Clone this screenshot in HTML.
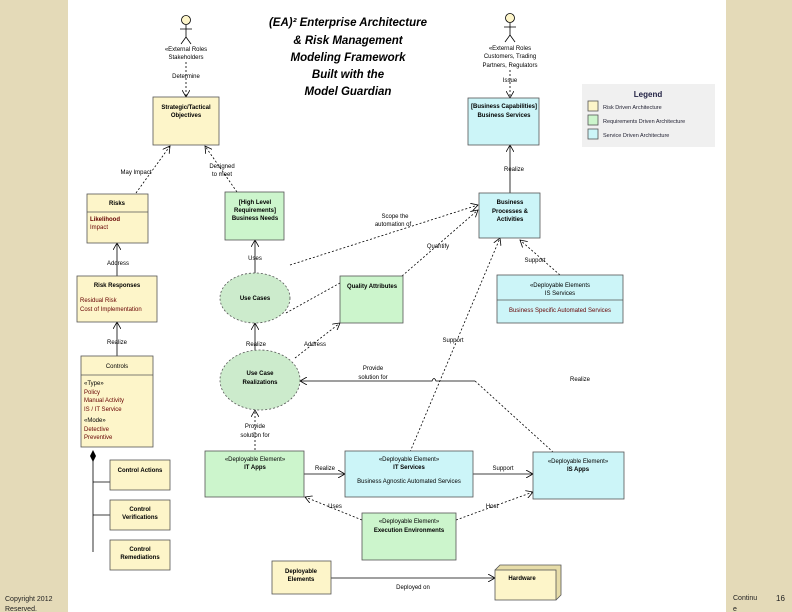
<!DOCTYPE html>
<html><head><style>
body{margin:0;width:792px;height:612px;overflow:hidden;background:#e6dcba;font-family:"Liberation Sans",sans-serif}
svg{position:absolute;left:0;top:0}
</style></head><body>
<svg width="792" height="612" viewBox="0 0 792 612" font-family="Liberation Sans, sans-serif" font-size="6.5">
<defs>
<marker id="a" markerWidth="8" markerHeight="8" refX="7" refY="4" orient="auto" markerUnits="userSpaceOnUse"><path d="M0,0 L7,4 L0,8" fill="none" stroke="#000" stroke-width="0.8"/></marker>
</defs>
<rect x="0" y="0" width="792" height="612" fill="#e4dab8"/>
<rect x="68" y="0" width="658" height="612" fill="#fff"/>
<g fill="#000" font-weight="bold" font-style="italic" font-size="11.5" text-anchor="middle">
<text x="348" y="26">(EA)² Enterprise Architecture</text>
<text x="348" y="44">&amp; Risk Management</text>
<text x="348" y="61">Modeling Framework</text>
<text x="348" y="78">Built with the</text>
<text x="348" y="95">Model Guardian</text>
</g>
<g stroke="#000" stroke-width="0.8" fill="none">
<circle cx="186" cy="20" r="4.5" fill="#fdf5c9"/><path d="M186,25 V37 M180,29 H192 M186,37 L181,44 M186,37 L191,44"/>
<circle cx="510" cy="18" r="4.5" fill="#fdf5c9"/><path d="M510,23 V35 M504,27 H516 M510,35 L505,42 M510,35 L515,42"/>
</g>
<g font-size="6" text-anchor="middle">
<text x="186" y="51">«External Roles</text><text x="186" y="59">Stakeholders</text><text x="186" y="78">Determine</text>
<text x="510" y="50">«External Roles</text><text x="510" y="58">Customers, Trading</text><text x="510" y="67">Partners, Regulators</text><text x="510" y="82">Issue</text>
</g>
<g stroke="#000" stroke-width="0.8" fill="none" stroke-dasharray="2,2">
<path d="M186,62 V97" marker-end="url(#a)"/>
<path d="M510,70 V98" marker-end="url(#a)"/>
<path d="M136,193 L170,146" marker-end="url(#a)"/>
<path d="M237,192 L205,146" marker-end="url(#a)"/>
<path d="M290,265 L478,205" marker-end="url(#a)"/>
<path d="M286,313 L340,283"/>
<path d="M402,276 L478,210" marker-end="url(#a)"/>
<path d="M560,275 L520,240" marker-end="url(#a)"/>
<path d="M295,358 L340,323" marker-end="url(#a)"/>
<path d="M410,452 L500,238" marker-end="url(#a)"/>
<path d="M255,450 V410" marker-end="url(#a)"/>
<path d="M362,520 L305,497" marker-end="url(#a)"/>
<path d="M456,520 L533,492" marker-end="url(#a)"/>
<path d="M475,381 L553,452"/>
</g>
<g stroke="#000" stroke-width="0.8" fill="none">
<path d="M510,193 V145" marker-end="url(#a)"/>
<path d="M117,276 V243" marker-end="url(#a)"/>
<path d="M255,273 V240" marker-end="url(#a)"/>
<path d="M117,356 V322" marker-end="url(#a)"/>
<path d="M255,350 V323" marker-end="url(#a)"/>
<path d="M475,381 H436 Q434,376 432,381 H300" marker-end="url(#a)"/>
<path d="M304,474 H345" marker-end="url(#a)"/>
<path d="M473,474 H533" marker-end="url(#a)"/>
<path d="M331,578 H495" marker-end="url(#a)"/>
<path d="M93,452 V552 M93,482 H110 M93,515 H110"/>
</g>
<path d="M93,450 l-3,6 l3,6 l3,-6z" fill="#000"/>
<g font-size="6" text-anchor="middle">
<text x="136" y="174">May Impact</text><text x="222" y="168">Designed</text><text x="222" y="176">to meet</text>
<text x="395" y="218">Scope the</text><text x="393" y="226">automation of</text>
<text x="438" y="248">Quantify</text><text x="514" y="171">Realize</text><text x="535" y="262">Support</text>
<text x="118" y="265">Address</text><text x="255" y="260">Uses</text><text x="117" y="344">Realize</text>
<text x="256" y="346">Realize</text><text x="315" y="346">Address</text><text x="453" y="342">Support</text>
<text x="373" y="370">Provide</text><text x="373" y="379">solution for</text><text x="580" y="381">Realize</text>
<text x="255" y="428">Provide</text><text x="255" y="437">solution for</text>
<text x="325" y="470">Realize</text><text x="503" y="470">Support</text>
<text x="335" y="508">Uses</text><text x="492" y="508">Host</text><text x="413" y="589">Deployed on</text>
</g>
<g stroke="#555" stroke-width="0.8">
<rect x="153" y="97" width="66" height="48" fill="#fdf5c9"/>
<rect x="87" y="194" width="61" height="49" fill="#fdf5c9"/><line x1="87" y1="212" x2="148" y2="212"/>
<rect x="225" y="192" width="59" height="48" fill="#ccf5cc"/>
<rect x="468" y="98" width="71" height="47" fill="#ccf5f8"/>
<rect x="479" y="193" width="61" height="45" fill="#ccf5f8"/>
<rect x="77" y="276" width="80" height="46" fill="#fdf5c9"/>
<ellipse cx="255" cy="298" rx="35" ry="25" fill="#ccebcc" stroke-dasharray="2,2"/>
<rect x="340" y="276" width="63" height="47" fill="#ccf5cc"/>
<rect x="497" y="275" width="126" height="48" fill="#ccf5f8"/><line x1="497" y1="300" x2="623" y2="300"/>
<rect x="81" y="356" width="72" height="91" fill="#fdf5c9"/><line x1="81" y1="375" x2="153" y2="375"/>
<ellipse cx="260" cy="380" rx="40" ry="30" fill="#ccebcc" stroke-dasharray="2,2"/>
<rect x="205" y="451" width="99" height="46" fill="#ccf5cc"/>
<rect x="345" y="451" width="128" height="46" fill="#ccf5f8"/>
<rect x="533" y="452" width="91" height="47" fill="#ccf5f8"/>
<rect x="362" y="513" width="94" height="47" fill="#ccf5cc"/>
<rect x="110" y="460" width="60" height="30" fill="#fdf5c9"/>
<rect x="110" y="500" width="60" height="30" fill="#fdf5c9"/>
<rect x="110" y="540" width="60" height="30" fill="#fdf5c9"/>
<rect x="272" y="561" width="59" height="33" fill="#fdf5c9"/>
<path d="M495,570 l5,-5 h61 v30 l-5,5" fill="#e6dca8"/>
<rect x="495" y="570" width="61" height="30" fill="#fdf5c9"/>
<rect x="582" y="84" width="133" height="63" fill="#f0f0f0" stroke="none"/>
<rect x="588" y="101" width="10" height="10" fill="#fdf5c9"/>
<rect x="588" y="115" width="10" height="10" fill="#ccf5cc"/>
<rect x="588" y="129" width="10" height="10" fill="#ccf5f8"/>
</g>
<g font-size="6" text-anchor="middle">
<text x="186" y="109" font-weight="bold">Strategic/Tactical</text><text x="186" y="117" font-weight="bold">Objectives</text>
<text x="117" y="205" font-weight="bold">Risks</text>
<text x="255" y="204" font-weight="bold">[High Level</text><text x="255" y="212" font-weight="bold">Requirements]</text><text x="255" y="220" font-weight="bold">Business Needs</text>
<text x="504" y="108" font-weight="bold">[Business Capabilities]</text><text x="504" y="117" font-weight="bold">Business Services</text>
<text x="510" y="204" font-weight="bold">Business</text><text x="510" y="213" font-weight="bold">Processes &amp;</text><text x="510" y="221" font-weight="bold">Activities</text>
<text x="117" y="287" font-weight="bold">Risk Responses</text>
<text x="255" y="300" font-weight="bold">Use Cases</text>
<text x="372" y="288" font-weight="bold">Quality Attributes</text>
<text x="560" y="287">«Deployable Elements</text><text x="560" y="295">IS Services</text>
<text x="560" y="312" fill="#600">Business Specific Automated Services</text>
<text x="117" y="368">Controls</text>
<text x="260" y="375" font-weight="bold">Use Case</text><text x="260" y="384" font-weight="bold">Realizations</text>
<text x="255" y="461">«Deployable Element»</text><text x="255" y="469" font-weight="bold">IT Apps</text>
<text x="409" y="461">«Deployable Element»</text><text x="409" y="469" font-weight="bold">IT Services</text><text x="409" y="483">Business Agnostic Automated Services</text>
<text x="578" y="463">«Deployable Element»</text><text x="578" y="471" font-weight="bold">IS Apps</text>
<text x="409" y="523">«Deployable Element»</text><text x="409" y="532" font-weight="bold">Execution Environments</text>
<text x="140" y="472" font-weight="bold">Control Actions</text>
<text x="140" y="511" font-weight="bold">Control</text><text x="140" y="519" font-weight="bold">Verifications</text>
<text x="140" y="551" font-weight="bold">Control</text><text x="140" y="559" font-weight="bold">Remediations</text>
<text x="301" y="573" font-weight="bold">Deployable</text><text x="301" y="581" font-weight="bold">Elements</text>
<text x="522" y="580" font-weight="bold">Hardware</text>
<text x="648" y="97" font-size="8" font-weight="bold" fill="#224">Legend</text>
</g>
<g font-size="6" fill="#600">
<text x="90" y="221" font-weight="bold">Likelihood</text><text x="90" y="229">Impact</text>
<text x="80" y="302">Residual Risk</text><text x="80" y="311">Cost of Implementation</text>
<text x="84" y="385" fill="#000">«Type»</text><text x="84" y="394">Policy</text><text x="84" y="402">Manual Activity</text><text x="84" y="411">IS / IT Service</text>
<text x="84" y="422" fill="#000">«Mode»</text><text x="84" y="431">Detective</text><text x="84" y="439">Preventive</text>
</g>
<g font-size="5.5" fill="#223">
<text x="603" y="109">Risk Driven Architecture</text>
<text x="603" y="123">Requirements Driven Architecture</text>
<text x="603" y="137">Service Driven Architecture</text>
</g>
<g font-size="7" fill="#222">
<text x="5" y="601">Copyright 2012</text><text x="5" y="611">Reserved.</text>
<text x="733" y="600">Continu</text><text x="733" y="611">e</text>
<text x="776" y="601" font-size="8">16</text>
</g>
</svg>
</body></html>
